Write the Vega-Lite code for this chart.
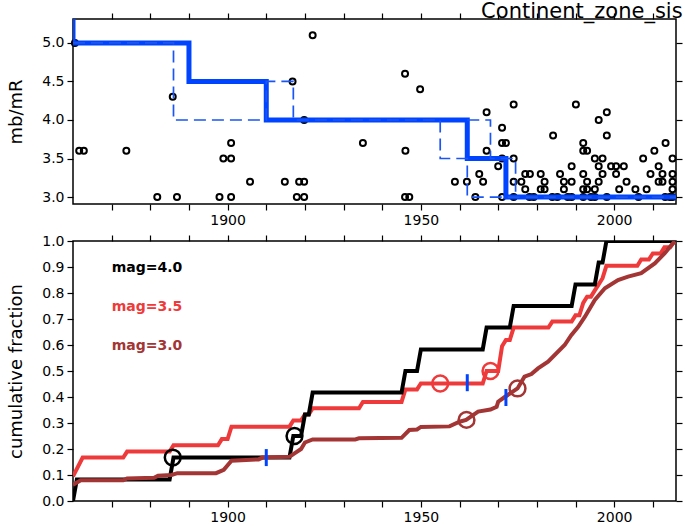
{
"$schema": "https://vega.github.io/schema/vega-lite/v6.json",
"background": "white",
"padding": {"left": 6, "top": 0, "right": 4, "bottom": 2},
"spacing": 5,
"config": {
  "font": "DejaVu Sans",
  "view": {"stroke": "black", "strokeWidth": 1.5},
  "axis": {"grid": false, "domain": false, "tickColor": "black", "tickSize": 6, "tickWidth": 1.2, "labelColor": "black", "labelFont": "DejaVu Sans", "labelFontSize": 14, "titleFont": "DejaVu Sans", "titleFontSize": 18, "titleFontWeight": "normal", "titleColor": "black", "labelPadding": 3, "titlePadding": 16}
},
"datasets": {
  "pts": [
    {"year":1860.5,"mb":5.0},{"year":1861.6,"mb":3.6},{"year":1862.8,"mb":3.6},{"year":1873.8,"mb":3.6},{"year":1881.8,"mb":3.0},
    {"year":1885.8,"mb":4.3},{"year":1886.9,"mb":3.0},{"year":1897.9,"mb":3.0},{"year":1898.9,"mb":3.5},{"year":1900.9,"mb":3.5},
    {"year":1900.9,"mb":3.7},{"year":1900.9,"mb":3.0},{"year":1905.8,"mb":3.2},{"year":1914.8,"mb":3.2},{"year":1916.8,"mb":4.5},
    {"year":1917.9,"mb":3.0},{"year":1918.5,"mb":3.2},{"year":1919.8,"mb":3.2},{"year":1919.8,"mb":3.0},{"year":1919.8,"mb":4.0},
    {"year":1922.0,"mb":5.1},{"year":1935.0,"mb":3.7},{"year":1945.9,"mb":4.6},{"year":1946.0,"mb":3.6},{"year":1945.9,"mb":3.0},
    {"year":1947.0,"mb":3.0},{"year":1949.8,"mb":4.4},{"year":1958.8,"mb":3.2},{"year":1961.9,"mb":3.2},{"year":1964.1,"mb":3.0},
    {"year":1965.1,"mb":3.3},{"year":1966.1,"mb":3.2},{"year":1967.0,"mb":4.1},{"year":1967.0,"mb":3.6},{"year":1970.0,"mb":3.4},
    {"year":1971.0,"mb":3.9},{"year":1971.0,"mb":3.7},{"year":1972.0,"mb":3.7},{"year":1971.0,"mb":3.5},{"year":1971.0,"mb":3.0},
    {"year":1974.0,"mb":4.2},{"year":1974.0,"mb":3.5},{"year":1974.0,"mb":3.2},{"year":1974.0,"mb":3.0},{"year":1976.0,"mb":3.2},
    {"year":1977.0,"mb":3.3},{"year":1978.2,"mb":3.3},{"year":1977.0,"mb":3.1},{"year":1978.1,"mb":3.0},{"year":1979.2,"mb":3.0},
    {"year":1981.0,"mb":3.3},{"year":1982.0,"mb":3.2},{"year":1981.0,"mb":3.1},{"year":1982.0,"mb":3.1},{"year":1984.2,"mb":3.8},
    {"year":1984.0,"mb":3.0},{"year":1985.3,"mb":3.0},{"year":1986.0,"mb":3.3},{"year":1987.0,"mb":3.2},{"year":1987.0,"mb":3.1},
    {"year":1988.0,"mb":3.0},{"year":1989.0,"mb":3.4},{"year":1989.0,"mb":3.2},{"year":1989.0,"mb":3.0},{"year":1990.1,"mb":4.2},
    {"year":1992.0,"mb":3.7},{"year":1992.0,"mb":3.6},{"year":1993.0,"mb":3.6},{"year":1992.0,"mb":3.3},{"year":1993.0,"mb":3.2},
    {"year":1992.0,"mb":3.1},{"year":1993.0,"mb":3.1},{"year":1992.0,"mb":3.0},{"year":1994.0,"mb":3.0},{"year":1995.0,"mb":3.5},
    {"year":1996.0,"mb":4.0},{"year":1998.1,"mb":4.1},{"year":1998.1,"mb":3.8},{"year":1996.0,"mb":3.4},{"year":1997.0,"mb":3.5},
    {"year":1997.0,"mb":3.3},{"year":1996.0,"mb":3.2},{"year":1995.0,"mb":3.1},{"year":1995.0,"mb":3.0},{"year":1998.1,"mb":3.0},
    {"year":1999.2,"mb":3.4},{"year":2000.5,"mb":3.4},{"year":2002.5,"mb":3.4},{"year":2000.5,"mb":3.3},{"year":2003.2,"mb":3.2},
    {"year":2001.3,"mb":3.1},{"year":2005.5,"mb":3.1},{"year":2006.3,"mb":3.0},{"year":2007.5,"mb":3.5},{"year":2008.4,"mb":3.1},
    {"year":2009.4,"mb":3.3},{"year":2010.4,"mb":3.6},{"year":2011.5,"mb":3.4},{"year":2011.5,"mb":3.2},{"year":2012.5,"mb":3.2},
    {"year":2012.5,"mb":3.3},{"year":2013.3,"mb":3.7},{"year":2013.2,"mb":3.0},{"year":2014.4,"mb":3.0},{"year":2015.1,"mb":3.5},
    {"year":2015.1,"mb":3.3},{"year":2015.1,"mb":3.2},{"year":2015.1,"mb":3.1},{"year":2015.1,"mb":3.0}
  ],
  "solid": [
    {"i":1,"year":1860,"mb":5.6},{"i":2,"year":1860,"mb":5.0},{"i":3,"year":1890,"mb":5.0},{"i":4,"year":1890,"mb":4.5},
    {"i":5,"year":1910,"mb":4.5},{"i":6,"year":1910,"mb":4.0},{"i":7,"year":1962,"mb":4.0},{"i":8,"year":1962,"mb":3.5},
    {"i":9,"year":1972,"mb":3.5},{"i":10,"year":1972,"mb":3.0},{"i":11,"year":2016,"mb":3.0}
  ],
  "dashed": [
    {"seg":"A","i":1,"year":1860,"mb":5.0},{"seg":"A","i":2,"year":1886,"mb":5.0},{"seg":"A","i":3,"year":1886,"mb":4.0},
    {"seg":"A","i":4,"year":1910,"mb":4.0},{"seg":"A","i":5,"year":1910,"mb":4.5},{"seg":"A","i":6,"year":1917,"mb":4.5},
    {"seg":"A","i":7,"year":1917,"mb":4.0},{"seg":"A","i":8,"year":1955,"mb":4.0},{"seg":"A","i":9,"year":1955,"mb":3.5},
    {"seg":"A","i":10,"year":1962,"mb":3.5},{"seg":"A","i":11,"year":1962,"mb":3.0},{"seg":"A","i":12,"year":2016,"mb":3.0},
    {"seg":"B","i":1,"year":1962,"mb":4.0},{"seg":"B","i":2,"year":1968,"mb":4.0},{"seg":"B","i":3,"year":1968,"mb":3.5},
    {"seg":"B","i":4,"year":1974.5,"mb":3.5},{"seg":"B","i":5,"year":1974.5,"mb":3.0}
  ],
  "cum": [
    {"mag":"4.0","i":1,"year":1860,"frac":0},{"mag":"4.0","i":2,"year":1861,"frac":0.083},{"mag":"4.0","i":3,"year":1885,"frac":0.083},
    {"mag":"4.0","i":4,"year":1886,"frac":0.167},{"mag":"4.0","i":5,"year":1916,"frac":0.167},{"mag":"4.0","i":6,"year":1917,"frac":0.25},
    {"mag":"4.0","i":7,"year":1919,"frac":0.25},{"mag":"4.0","i":8,"year":1920,"frac":0.333},{"mag":"4.0","i":9,"year":1921,"frac":0.333},
    {"mag":"4.0","i":10,"year":1922,"frac":0.417},{"mag":"4.0","i":11,"year":1945,"frac":0.417},{"mag":"4.0","i":12,"year":1946,"frac":0.5},
    {"mag":"4.0","i":13,"year":1949,"frac":0.5},{"mag":"4.0","i":14,"year":1950,"frac":0.583},{"mag":"4.0","i":15,"year":1966,"frac":0.583},
    {"mag":"4.0","i":16,"year":1967,"frac":0.667},{"mag":"4.0","i":17,"year":1973,"frac":0.667},{"mag":"4.0","i":18,"year":1974,"frac":0.75},
    {"mag":"4.0","i":19,"year":1989,"frac":0.75},{"mag":"4.0","i":20,"year":1990,"frac":0.833},{"mag":"4.0","i":21,"year":1995,"frac":0.833},
    {"mag":"4.0","i":22,"year":1996,"frac":0.917},{"mag":"4.0","i":23,"year":1997,"frac":0.917},{"mag":"4.0","i":24,"year":1998,"frac":1.0},
    {"mag":"4.0","i":25,"year":2016,"frac":1.0},
    {"mag":"3.5","i":1,"year":1860,"frac":0.095},{"mag":"3.5","i":2,"year":1862.5,"frac":0.167},{"mag":"3.5","i":3,"year":1873,"frac":0.167},
    {"mag":"3.5","i":4,"year":1874,"frac":0.19},{"mag":"3.5","i":5,"year":1885,"frac":0.19},{"mag":"3.5","i":6,"year":1886,"frac":0.214},
    {"mag":"3.5","i":7,"year":1897.5,"frac":0.214},{"mag":"3.5","i":8,"year":1898.5,"frac":0.238},{"mag":"3.5","i":9,"year":1900,"frac":0.238},
    {"mag":"3.5","i":10,"year":1901,"frac":0.286},{"mag":"3.5","i":11,"year":1916,"frac":0.286},{"mag":"3.5","i":12,"year":1917,"frac":0.31},
    {"mag":"3.5","i":13,"year":1919,"frac":0.31},{"mag":"3.5","i":14,"year":1920,"frac":0.333},{"mag":"3.5","i":15,"year":1921,"frac":0.333},
    {"mag":"3.5","i":16,"year":1922,"frac":0.357},{"mag":"3.5","i":17,"year":1934,"frac":0.357},{"mag":"3.5","i":18,"year":1935,"frac":0.381},
    {"mag":"3.5","i":19,"year":1945,"frac":0.381},{"mag":"3.5","i":20,"year":1946,"frac":0.429},{"mag":"3.5","i":21,"year":1949,"frac":0.429},
    {"mag":"3.5","i":22,"year":1950,"frac":0.452},{"mag":"3.5","i":23,"year":1966,"frac":0.452},{"mag":"3.5","i":24,"year":1967,"frac":0.5},
    {"mag":"3.5","i":25,"year":1970,"frac":0.5},{"mag":"3.5","i":26,"year":1971,"frac":0.595},{"mag":"3.5","i":27,"year":1972,"frac":0.619},
    {"mag":"3.5","i":28,"year":1973,"frac":0.619},{"mag":"3.5","i":29,"year":1974,"frac":0.667},{"mag":"3.5","i":30,"year":1983,"frac":0.667},
    {"mag":"3.5","i":31,"year":1984,"frac":0.69},{"mag":"3.5","i":32,"year":1989,"frac":0.69},{"mag":"3.5","i":33,"year":1990,"frac":0.714},
    {"mag":"3.5","i":34,"year":1991,"frac":0.714},{"mag":"3.5","i":35,"year":1992,"frac":0.762},{"mag":"3.5","i":36,"year":1993,"frac":0.786},
    {"mag":"3.5","i":37,"year":1994,"frac":0.786},{"mag":"3.5","i":38,"year":1995,"frac":0.81},{"mag":"3.5","i":39,"year":1996,"frac":0.833},
    {"mag":"3.5","i":40,"year":1997,"frac":0.857},{"mag":"3.5","i":41,"year":1998,"frac":0.905},{"mag":"3.5","i":42,"year":2006,"frac":0.905},
    {"mag":"3.5","i":43,"year":2007,"frac":0.929},{"mag":"3.5","i":44,"year":2009,"frac":0.929},{"mag":"3.5","i":45,"year":2010,"frac":0.952},
    {"mag":"3.5","i":46,"year":2012,"frac":0.952},{"mag":"3.5","i":47,"year":2013,"frac":0.976},{"mag":"3.5","i":48,"year":2014.5,"frac":0.976},
    {"mag":"3.5","i":49,"year":2015.7,"frac":1.0},
    {"mag":"3.0","i":1,"year":1860,"frac":0.062},{"mag":"3.0","i":2,"year":1862,"frac":0.08},{"mag":"3.0","i":3,"year":1873,"frac":0.08},
    {"mag":"3.0","i":4,"year":1874,"frac":0.087},{"mag":"3.0","i":5,"year":1881,"frac":0.089},{"mag":"3.0","i":6,"year":1882,"frac":0.097},
    {"mag":"3.0","i":7,"year":1885.5,"frac":0.1},{"mag":"3.0","i":8,"year":1887,"frac":0.107},{"mag":"3.0","i":9,"year":1897,"frac":0.107},
    {"mag":"3.0","i":10,"year":1899,"frac":0.12},{"mag":"3.0","i":11,"year":1901,"frac":0.155},{"mag":"3.0","i":12,"year":1908,"frac":0.16},
    {"mag":"3.0","i":13,"year":1909,"frac":0.167},{"mag":"3.0","i":14,"year":1916,"frac":0.17},{"mag":"3.0","i":15,"year":1917.5,"frac":0.185},
    {"mag":"3.0","i":16,"year":1919,"frac":0.2},{"mag":"3.0","i":17,"year":1920,"frac":0.225},{"mag":"3.0","i":18,"year":1922,"frac":0.237},
    {"mag":"3.0","i":19,"year":1933,"frac":0.237},{"mag":"3.0","i":20,"year":1934,"frac":0.241},{"mag":"3.0","i":21,"year":1945,"frac":0.243},
    {"mag":"3.0","i":22,"year":1947,"frac":0.273},{"mag":"3.0","i":23,"year":1949,"frac":0.275},{"mag":"3.0","i":24,"year":1950,"frac":0.285},
    {"mag":"3.0","i":25,"year":1957.4,"frac":0.287},{"mag":"3.0","i":26,"year":1960,"frac":0.305},{"mag":"3.0","i":27,"year":1961.7,"frac":0.312},
    {"mag":"3.0","i":28,"year":1964.8,"frac":0.344},{"mag":"3.0","i":29,"year":1968,"frac":0.352},{"mag":"3.0","i":30,"year":1969.6,"frac":0.362},
    {"mag":"3.0","i":31,"year":1970,"frac":0.382},{"mag":"3.0","i":32,"year":1971.7,"frac":0.4},{"mag":"3.0","i":33,"year":1975,"frac":0.433},
    {"mag":"3.0","i":34,"year":1976.8,"frac":0.478},{"mag":"3.0","i":35,"year":1978.6,"frac":0.488},{"mag":"3.0","i":36,"year":1980.3,"frac":0.51},
    {"mag":"3.0","i":37,"year":1982.9,"frac":0.536},{"mag":"3.0","i":38,"year":1987.2,"frac":0.6},{"mag":"3.0","i":39,"year":1988.9,"frac":0.638},
    {"mag":"3.0","i":40,"year":1990.7,"frac":0.67},{"mag":"3.0","i":41,"year":1992.4,"frac":0.708},{"mag":"3.0","i":42,"year":1995,"frac":0.773},
    {"mag":"3.0","i":43,"year":1997.6,"frac":0.818},{"mag":"3.0","i":44,"year":2001,"frac":0.85},{"mag":"3.0","i":45,"year":2003.6,"frac":0.863},
    {"mag":"3.0","i":46,"year":2007,"frac":0.876},{"mag":"3.0","i":47,"year":2010.5,"frac":0.914},{"mag":"3.0","i":48,"year":2013.1,"frac":0.953},
    {"mag":"3.0","i":49,"year":2015.7,"frac":1.0}
  ],
  "circ": [
    {"mag":"4.0","year":1885.8,"frac":0.167},{"mag":"4.0","year":1917.3,"frac":0.25},
    {"mag":"3.5","year":1955,"frac":0.452},{"mag":"3.5","year":1968,"frac":0.5},
    {"mag":"3.0","year":1961.8,"frac":0.312},{"mag":"3.0","year":1975,"frac":0.433}
  ],
  "bticks": [
    {"year":1910,"frac":0.167},{"year":1962,"frac":0.455},{"year":1972,"frac":0.398}
  ],
  "labels": [
    {"label":"mag=4.0","mag":"4.0","year":1870,"frac":0.895},
    {"label":"mag=3.5","mag":"3.5","year":1870,"frac":0.745},
    {"label":"mag=3.0","mag":"3.0","year":1870,"frac":0.596}
  ]
},
"vconcat": [
  {
    "width": 603, "height": 185,
    "title": {"text": "Continent_zone_sis", "anchor": "end", "fontSize": 21, "fontWeight": "normal", "font": "DejaVu Sans", "color": "black", "baseline": "alphabetic", "offset": -27},
    "resolve": {"axis": {"x": "independent", "y": "independent"}},
    "layer": [
      {
        "data": {"name": "pts"},
        "mark": {"type": "point", "filled": false, "color": "black", "size": 36, "strokeWidth": 2, "opacity": 1},
        "encoding": {
          "x": {"field": "year", "type": "quantitative", "scale": {"domain": [1860, 2016], "nice": false, "zero": false},
                "axis": {"orient": "bottom", "values": [1870,1880,1890,1900,1910,1920,1930,1940,1950,1960,1970,1980,1990,2000,2010], "labelExpr": "datum.value % 50 == 0 ? toString(datum.value) : ''", "title": null}},
          "y": {"field": "mb", "type": "quantitative", "scale": {"domain": [2.91, 5.31], "nice": false, "zero": false},
                "axis": {"orient": "left", "values": [3, 3.5, 4, 4.5, 5], "format": ".1f", "title": "mb/mR"}}
        }
      },
      {
        "data": {"name": "solid"},
        "mark": {"type": "line", "color": "#0044FF", "strokeWidth": 5, "clip": true, "strokeJoin": "miter"},
        "encoding": {
          "x": {"field": "year", "type": "quantitative", "scale": {"domain": [1860, 2016], "nice": false, "zero": false},
                "axis": {"orient": "top", "values": [1870,1880,1890,1900,1910,1920,1930,1940,1950,1960,1970,1980,1990,2000,2010], "labels": false, "title": null}},
          "y": {"field": "mb", "type": "quantitative", "scale": {"domain": [2.91, 5.31], "nice": false, "zero": false},
                "axis": {"orient": "right", "values": [3, 3.5, 4, 4.5, 5], "labels": false, "title": null}},
          "order": {"field": "i", "type": "quantitative"}
        }
      },
      {
        "data": {"name": "dashed"},
        "mark": {"type": "line", "color": "#1A55F5", "strokeWidth": 1.7, "strokeDash": [12, 6], "clip": true},
        "encoding": {
          "x": {"field": "year", "type": "quantitative", "scale": {"domain": [1860, 2016], "nice": false, "zero": false}, "axis": null},
          "y": {"field": "mb", "type": "quantitative", "scale": {"domain": [2.91, 5.31], "nice": false, "zero": false}, "axis": null},
          "detail": {"field": "seg", "type": "nominal"},
          "order": {"field": "i", "type": "quantitative"}
        }
      }
    ]
  },
  {
    "width": 603, "height": 260,
    "resolve": {"axis": {"x": "independent", "y": "independent"}},
    "layer": [
      {
        "data": {"name": "cum"},
        "transform": [{"filter": "datum.mag == '3.5'"}],
        "mark": {"type": "line", "strokeWidth": 4, "clip": true},
        "encoding": {
          "x": {"field": "year", "type": "quantitative", "scale": {"domain": [1860, 2016], "nice": false, "zero": false},
                "axis": {"orient": "bottom", "values": [1870,1880,1890,1900,1910,1920,1930,1940,1950,1960,1970,1980,1990,2000,2010], "labelExpr": "datum.value % 50 == 0 ? toString(datum.value) : ''", "title": null}},
          "y": {"field": "frac", "type": "quantitative", "scale": {"domain": [0, 1], "nice": false, "zero": false},
                "axis": {"orient": "left", "values": [0,0.1,0.2,0.3,0.4,0.5,0.6,0.7,0.8,0.9,1.0], "format": ".1f", "title": "cumulative fraction"}},
          "color": {"field": "mag", "type": "nominal", "scale": {"domain": ["4.0", "3.5", "3.0"], "range": ["#000000", "#EE3A3A", "#A33535"]}, "legend": null},
          "order": {"field": "i", "type": "quantitative"}
        }
      },
      {
        "data": {"name": "cum"},
        "transform": [{"filter": "datum.mag == '4.0'"}],
        "mark": {"type": "line", "strokeWidth": 4, "clip": true},
        "encoding": {
          "x": {"field": "year", "type": "quantitative", "scale": {"domain": [1860, 2016], "nice": false, "zero": false},
                "axis": {"orient": "top", "values": [1870,1880,1890,1900,1910,1920,1930,1940,1950,1960,1970,1980,1990,2000,2010], "labels": false, "title": null}},
          "y": {"field": "frac", "type": "quantitative", "scale": {"domain": [0, 1], "nice": false, "zero": false},
                "axis": {"orient": "right", "values": [0,0.1,0.2,0.3,0.4,0.5,0.6,0.7,0.8,0.9,1.0], "labels": false, "title": null}},
          "color": {"field": "mag", "type": "nominal", "scale": {"domain": ["4.0", "3.5", "3.0"], "range": ["#000000", "#EE3A3A", "#A33535"]}, "legend": null},
          "order": {"field": "i", "type": "quantitative"}
        }
      },
      {
        "data": {"name": "cum"},
        "transform": [{"filter": "datum.mag == '3.0'"}],
        "mark": {"type": "line", "strokeWidth": 4, "clip": true},
        "encoding": {
          "x": {"field": "year", "type": "quantitative", "scale": {"domain": [1860, 2016], "nice": false, "zero": false}, "axis": null},
          "y": {"field": "frac", "type": "quantitative", "scale": {"domain": [0, 1], "nice": false, "zero": false}, "axis": null},
          "color": {"field": "mag", "type": "nominal", "scale": {"domain": ["4.0", "3.5", "3.0"], "range": ["#000000", "#EE3A3A", "#A33535"]}, "legend": null},
          "order": {"field": "i", "type": "quantitative"}
        }
      },
      {
        "data": {"name": "circ"},
        "mark": {"type": "point", "filled": false, "size": 250, "strokeWidth": 2.5, "opacity": 1},
        "encoding": {
          "x": {"field": "year", "type": "quantitative", "scale": {"domain": [1860, 2016], "nice": false, "zero": false}, "axis": null},
          "y": {"field": "frac", "type": "quantitative", "scale": {"domain": [0, 1], "nice": false, "zero": false}, "axis": null},
          "color": {"field": "mag", "type": "nominal", "scale": {"domain": ["4.0", "3.5", "3.0"], "range": ["#000000", "#EE3A3A", "#A33535"]}, "legend": null}
        }
      },
      {
        "data": {"name": "bticks"},
        "mark": {"type": "tick", "orient": "vertical", "color": "#0044FF", "size": 17, "thickness": 3, "opacity": 1},
        "encoding": {
          "x": {"field": "year", "type": "quantitative", "scale": {"domain": [1860, 2016], "nice": false, "zero": false}, "axis": null},
          "y": {"field": "frac", "type": "quantitative", "scale": {"domain": [0, 1], "nice": false, "zero": false}, "axis": null}
        }
      },
      {
        "data": {"name": "labels"},
        "mark": {"type": "text", "align": "left", "baseline": "middle", "fontWeight": "bold", "fontSize": 14, "font": "DejaVu Sans"},
        "encoding": {
          "x": {"field": "year", "type": "quantitative", "scale": {"domain": [1860, 2016], "nice": false, "zero": false}, "axis": null},
          "y": {"field": "frac", "type": "quantitative", "scale": {"domain": [0, 1], "nice": false, "zero": false}, "axis": null},
          "text": {"field": "label", "type": "nominal"},
          "color": {"field": "mag", "type": "nominal", "scale": {"domain": ["4.0", "3.5", "3.0"], "range": ["#000000", "#EE3A3A", "#A33535"]}, "legend": null}
        }
      }
    ]
  }
]
}
